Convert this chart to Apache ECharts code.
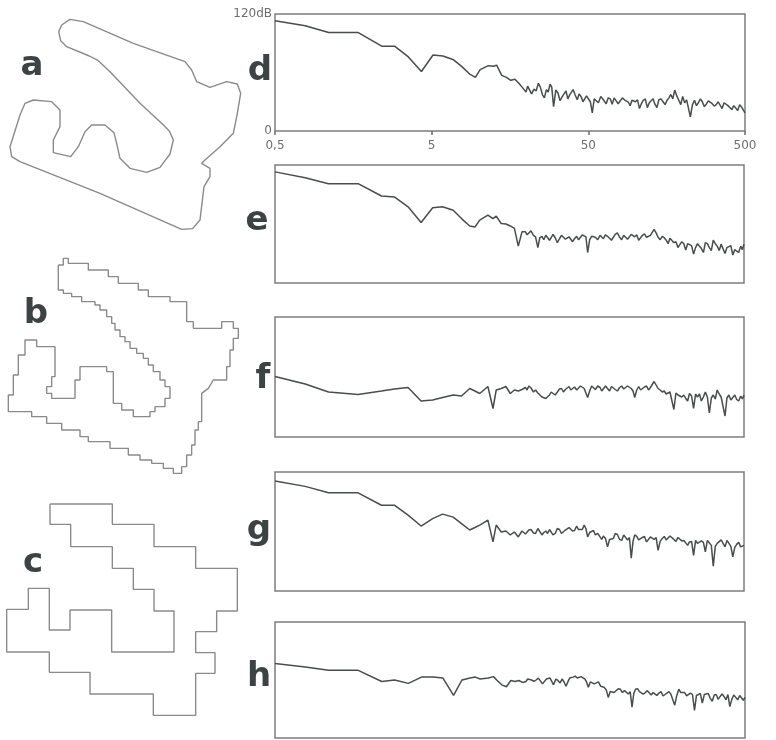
<!DOCTYPE html>
<html>
<head>
<meta charset="utf-8">
<script src="https://cdn.jsdelivr.net/npm/echarts@6/dist/echarts.min.js"></script>
<style>
html,body{margin:0;padding:0;background:#fff;}
#chart{width:776px;height:740px;}
</style>
</head>
<body>
<div id="chart"></div>
<script>
// Frequencies (Hz, log axis 0.5 .. 500)
const freq = [0.5,0.78,1.1,1.7,2.4,2.9,3.55,4.3,5.1,5.9,6.9,7.8,8.8,9.5,10.2,11.5,12.4,
  13,14,15,16,17,18,19,20,21,22.5,24,25.5,27,28.5,30,32,34,36,38,40,
  42.5,45,47.5,50,53,56,60,63,67,71,75,80,85,90,95,100,106,112,119,126,
  133,141,150,159,168,178,189,200,212,224,238,252,267,283,300,318,337,357,378,400,
  424,449,476,500];
// extra in-between frequencies of the dense (noisy) part
const freqMid = [20.5,21.7,23.2,24.7,26.2,27.7,29.2,31,33,35,
  37,39,41.2,43.7,46.2,48.7,51.5,54.5,58,61.5,
  65,69,73,77.5,82.5,87.5,92.5,97.5,103,109,
  115.5,122.5,129.5,137,145.5,154.5,163.5,173,183.5,194.5,
  206,218,231,245,259.5,275,291.5,309,327.5,347,
  367.5,389,412,436.5,462.5,488];

// Spectra levels (dB) at freq
const specD = [113,108,101,101,87,87,76,61,78,77,73,66,58,55,63,67,66.5,
  67.5,57,55,52,53,49,44.5,40,44.5,43,49,37,42.5,48,25,39,35,41,37,42.5,
  32,35,31,34,18.5,31.5,35.5,31,34,27.5,33,31,32,29.5,31.5,30,23,31.5,24,31,
  27.5,32,30,31.5,37.5,42,31.5,35.5,32,14.5,31.5,29,30,27.5,30,25.5,30,23,27.5,24,
  26,21,24.5,18.5];
const specE = [113,107,101,101,88.5,87.5,77.5,61.5,76.5,77.5,74,65.5,58,57,64,69,65.5,
  68,60.5,60,58,55.5,37.5,52,52,51,48.5,36,47.5,48.5,43.5,49.5,41,48.5,44.5,47,42,
  47.5,46.5,51,31,47.5,46.5,48.5,45,47.5,43.5,49.5,46.5,48.5,44.5,49.5,47,43.5,48.5,46.5,48.5,
  54.5,46.5,47.5,43.5,45.5,41,36,42,33.5,38.5,29.5,40,35,41,36,43.5,37.5,39.5,30,37.5,
  28.5,36,37.5,39.5];
const specF = [60.5,53,45,42.5,46,48,49.5,36,37,39.5,42,41,48.5,46,43.5,50.5,28.5,
  47,48.5,50.5,43.5,47,46,47.5,49.5,51,45,44,40,38.5,42,43.5,45,48.5,47.5,50.5,48,
  47,51,48.5,39.5,51,47.5,49.5,47,48.5,50.5,47.5,49.5,48,51,48.5,39.5,50.5,48.5,51,49.5,
  55.5,48.5,45,43,45,27.5,42,40,38.5,43.5,28.5,40,36,45,24,42,47,40,21,42,
  39.5,37.5,41,42];
const specG = [111,105.5,99,99,86.5,86.5,76.5,65.5,73,77.5,74.5,68,61.5,64,66.5,71.5,49.5,
  66.5,59.5,60.5,56.5,59.5,54.5,60.5,57.5,61.5,58.5,63,56.5,60.5,62,56.5,63,58,61.5,64,60.5,
  65.5,64,66.5,54.5,60.5,56.5,54.5,55.5,44.5,54,58,52,56.5,51.5,33,56.5,51.5,54,49.5,54.5,
  52,41,53,51.5,55.5,52,54,50.5,48.5,49.5,36,48,50.5,39.5,49.5,25,48,51.5,44.5,49.5,
  34.5,47,44.5,46];
const specH = [77,73.5,70,70,58.5,60,56.5,63,63,62,44,60,62,63,61,62,63.5,
  60,55,53,59.5,58.5,59.5,57.5,58.5,63,58.5,62,56,61,62,55,59.5,61,53.5,62,63,
  62,63.5,61,52.5,60,57.5,53.5,52.5,42,50,48,50.5,49,45.5,32,50.5,48,45.5,49,44.5,
  48,46.5,43.5,47,45.5,34,50.5,45.5,43.5,46.5,28.5,45.5,36,43.5,41,44.5,40,45.5,39.5,32.5,
  44.5,39.5,43.5,42];

// Spectra levels (dB) at freqMid
const midD = [46,38,41,45,34,40,45,42,31,38,
  33,36,37,38,30,36,30,33,29,36,
  28,33,34,28,34,34,26,33,32,28,
  33,29,33,24,33,27,34,33,36,27,
  29,31,27,26,33,25,31,28,27,28,
  29,26,22,27,27,25];
const midE = [49,53,47,46,44,49,46,46,45,49,
  43,48,45,44,49,47,44,49,44,50,
  49,49,45,51,44,50,46,51,49,46,
  50,45,50,51,44,46,40,44,42,39,
  40,40,38,36,41,31,40,33,40,33,
  41,36,38,34,31,34];
const midF = [47,49,47,43,42,40,45,42,48,45,
  49,47,50,46,52,50,46,49,51,46,
  51,46,51,46,51,47,50,46,47,47,
  50,47,50,52,47,46,41,43,44,44,
  42,36,41,43,43,40,40,39,38,43,
  42,39,37,42,36,38];
const midG = [56,62,58,61,59,58,61,58,62,57,
  60,63,61,62,62,63,59,61,58,52,
  53,52,53,57,51,55,54,50,55,50,
  55,51,55,54,50,55,50,54,50,52,
  51,46,50,51,46,49,51,46,45,46,
  48,51,45,44,49,43];
const midH = [61,60,60,60,58,59,60,61,57,58,
  58,60,64,61,62,58,58,56,58,55,
  50,48,47,51,47,50,48,46,51,49,
  47,47,47,44,48,45,48,47,44,47,
  47,42,45,44,46,45,46,38,45,43,
  43,45,40,42,44,39];

// Tick labels of the frequency axis, y-axis labels, panel letters
const freqTickLabels = ['0,5','5','50','500'];
const dbLabels = ['0','120dB'];
const panelLetters = ['a','b','c','d','e','f','g','h'];

// Contour outlines (image units of each small panel)
const shapeA = [[185,75],[210,58],[250,65],[400,130],[555,185],[575,210],[590,245],[630,262],[680,245],[712,252],
  [722,280],[712,340],[700,400],[660,440],[615,480],[605,490],[630,505],[630,530],[612,560],[600,660],[578,686],
  [545,688],[300,580],[60,485],[35,470],[30,440],[60,345],[75,310],[100,300],[155,305],[180,330],[180,380],
  [160,420],[160,458],[212,470],[235,440],[255,395],[275,375],[315,375],[342,398],[350,430],[360,475],[390,505],
  [440,517],[480,502],[510,462],[520,420],[508,393],[488,373],[420,310],[330,215],[295,182],[268,168],[200,140],
  [182,122],[176,95],[185,75]];
const shapeB = [[175,75],[190,75],[190,55],[205,55],[205,70],[265,70],[265,90],[325,90],[325,110],[355,110],[355,130],
  [415,130],[415,150],[445,150],[445,170],[510,170],[510,185],[560,185],[560,245],[580,245],[580,265],[665,265],[665,245],
  [700,245],[700,265],[715,265],[715,295],[700,295],[700,330],[690,330],[690,380],[680,380],[680,420],[640,420],[625,445],
  [605,460],[605,545],[595,545],[595,570],[585,570],[585,615],[575,615],[575,645],[560,645],[560,680],[545,680],[545,700],
  [520,700],[520,685],[490,685],[490,670],[455,670],[455,660],[420,660],[420,645],[385,645],[385,625],[330,625],[330,605],
  [265,605],[265,590],[240,590],[240,570],[185,570],[185,550],[140,550],[140,530],[95,530],[95,515],[25,515],[25,465],
  [40,465],[40,405],[55,405],[55,345],[75,345],[75,300],[110,300],[110,320],[165,320],[165,410],[155,410],[155,440],
  [140,440],[140,460],[155,460],[155,475],[225,475],[225,420],[240,420],[240,380],[320,380],[320,395],[340,395],[340,490],
  [365,490],[365,510],[400,510],[400,530],[450,530],[450,515],[465,515],[465,500],[495,500],[495,475],[510,475],[510,440],
  [495,440],[495,420],[480,420],[480,395],[460,395],[460,375],[445,375],[445,355],[430,355],[430,340],[410,340],[410,325],
  [390,325],[390,305],[375,305],[375,290],[360,290],[360,270],[345,270],[345,250],[335,250],[335,230],[320,230],[320,210],
  [300,210],[300,195],[285,195],[285,185],[245,185],[245,170],[215,170],[215,160],[190,160],[190,150],[175,150],[175,75]];
const shapeC = [[150,72],[337,72],[337,133],[462,133],[462,200],[587,200],[587,265],[712,265],[712,393],[650,393],
  [650,455],[587,455],[587,518],[645,518],[645,580],[587,580],[587,706],[460,706],[460,642],[270,642],[270,577],
  [148,577],[148,516],[20,516],[20,388],[85,388],[85,325],[148,325],[148,450],[210,450],[210,390],[335,390],
  [335,516],[522,516],[522,393],[462,393],[462,328],[400,328],[400,265],[337,265],[337,200],[212,200],[212,133],
  [150,133],[150,72]];

const spectra = [specD, specE, specF, specG, specH];
const mids = [midD, midE, midF, midG, midH];
const specBoxes = [
  {left:275, top:14, width:470, height:117},
  {left:275, top:165, width:469, height:118},
  {left:275, top:317, width:469, height:120},
  {left:275, top:472, width:469, height:119},
  {left:275, top:622, width:470, height:116}
];
const shapeBoxes = [
  {left:0, top:0, width:260, height:240, ymax:720},
  {left:0, top:240, width:260, height:250, ymax:750},
  {left:0, top:480, width:260, height:260, ymax:780}
];
const letterPos = [[32,66],[36,314],[33,563],[260,71],[257,221],[263,379],[259,530],[259,677]];

const chart = echarts.init(document.getElementById('chart'), null, {renderer:'canvas'});
const grids = [], xAxes = [], yAxes = [], series = [];
const fontFam = '"DejaVu Sans", sans-serif';

specBoxes.forEach((b, i) => {
  grids.push({left:b.left, top:b.top, width:b.width, height:b.height, show:true,
    borderColor:'#7d7d7d', borderWidth:1.5, backgroundColor:'transparent'});
  xAxes.push({type:'log', logBase:10, min:0.5, max:500, gridIndex:i, show:false});
  yAxes.push({type:'value', min:0, max:120, interval:120, gridIndex:i, show:i===0,
    axisLine:{show:false}, axisTick:{show:false}, splitLine:{show:false},
    axisLabel:{show:i===0, margin:3, fontSize:12, color:'#6e6e6e', fontFamily:fontFam,
      formatter:(v)=> v===120 ? dbLabels[1] : dbLabels[0]}});
  const pts = freq.map((f, k) => [f, spectra[i][k]])
    .concat(freqMid.map((f, k) => [f, mids[i][k]]))
    .sort((p, q) => p[0] - q[0]);
  series.push({type:'line', xAxisIndex:i, yAxisIndex:i, showSymbol:false, symbol:'none',
    lineStyle:{color:'#4a4d4d', width:1.5}, silent:true, animation:false, data: pts});
});
// frequency label axis for panel d (positions 1..1000 ≡ 0.5..500 on the same log scale)
xAxes.push({type:'log', logBase:10, min:1, max:1000, gridIndex:0, position:'bottom',
  axisLine:{show:false}, splitLine:{show:false},
  axisTick:{show:true, length:4, lineStyle:{color:'#6e6e6e', width:1.5}},
  axisLabel:{margin:9, fontSize:12, color:'#6e6e6e', fontFamily:fontFam,
    formatter:(v)=> freqTickLabels[Math.round(Math.log10(v))]}});

const shapes = [shapeA, shapeB, shapeC];
shapeBoxes.forEach((b, j) => {
  const gi = grids.length;
  grids.push({left:b.left, top:b.top, width:b.width, height:b.height, show:false});
  xAxes.push({type:'value', min:0, max:780, gridIndex:gi, show:false});
  yAxes.push({type:'value', min:0, max:b.ymax, inverse:true, gridIndex:gi, show:false});
  series.push({type:'line', xAxisIndex:xAxes.length-1, yAxisIndex:yAxes.length-1,
    showSymbol:false, symbol:'none', silent:true, animation:false,
    lineStyle:{color:'#8a8a8a', width:1.4}, data: shapes[j]});
});

const graphic = panelLetters.map((t, i) => ({
  type:'text', x:letterPos[i][0], y:letterPos[i][1],
  style:{text:t, fill:'#3d4242', font:'bold 34px "DejaVu Sans", sans-serif',
    textAlign:'center', textVerticalAlign:'middle'}
}));

chart.setOption({
  backgroundColor:'#ffffff',
  animation:false,
  grid:grids, xAxis:xAxes, yAxis:yAxes, series:series, graphic:graphic
});
</script>
</body>
</html>
